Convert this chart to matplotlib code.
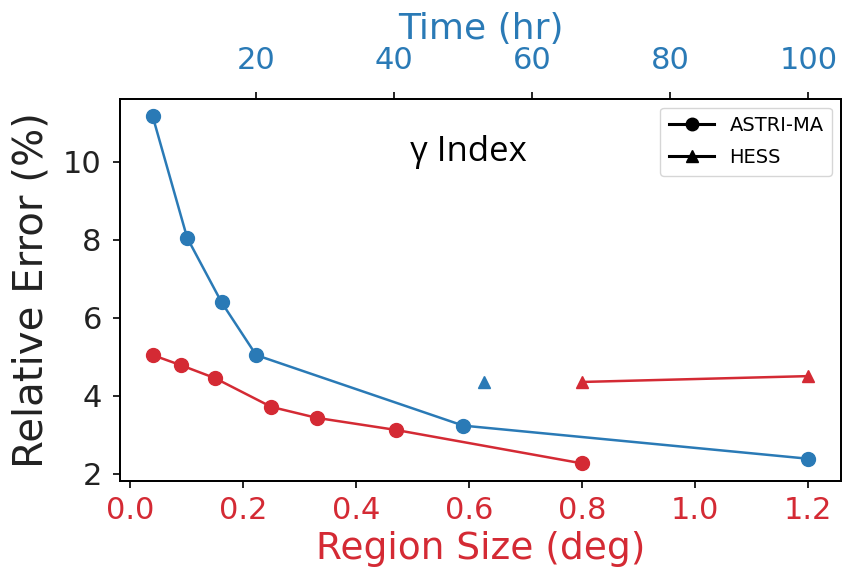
import matplotlib.pyplot as plt
from matplotlib.lines import Line2D

# ASTRI-MA, relative error vs. observation time (top axis)
astri_time = [5, 10, 15, 20, 50, 100]
astri_time_err = [11.17, 8.05, 6.39, 5.04, 3.23, 2.38]

# ASTRI-MA, relative error vs. region size (bottom axis)
astri_size = [0.04, 0.09, 0.15, 0.25, 0.33, 0.47, 0.80]
astri_size_err = [5.04, 4.78, 4.45, 3.71, 3.43, 3.12, 2.26]

# HESS points
hess_time = [53]
hess_time_err = [4.35]
hess_size = [0.80, 1.20]
hess_size_err = [4.35, 4.50]

blue = "#2a7ab6"
red = "#d42a34"

fig = plt.figure(figsize=(8.44, 5.71), dpi=100)
ax = fig.add_axes([0.142, 0.158, 0.8545, 0.669])

ax.plot(astri_size, astri_size_err, color=red, marker="o", markersize=10, linewidth=1.8)
ax.plot(hess_size, hess_size_err, color=red, marker="^", markersize=9, linewidth=1.8)

ax.set_xlabel("Region Size (deg)", color=red, fontsize=27, labelpad=4)
ax.set_ylabel("Relative Error (%)", color="#222222", fontsize=29, labelpad=8)
ax.tick_params(axis="x", colors=red, labelsize=22, length=5, width=1.2, pad=6)
ax.tick_params(axis="x", color="black")
ax.tick_params(axis="y", labelsize=22, length=5, width=1.2, pad=8, labelcolor="#222222")
ax.set_yticks([2, 4, 6, 8, 10])

ax2 = ax.twiny()
ax2.plot(astri_time, astri_time_err, color=blue, marker="o", markersize=10, linewidth=1.8)
ax2.plot(hess_time, hess_time_err, color=blue, marker="^", markersize=9, linestyle="none")
ax2.set_xlim(0.25, 104.75)
ax2.set_xlabel("Time (hr)", color=blue, fontsize=26, labelpad=5)
ax2.tick_params(axis="x", labelcolor=blue, labelsize=22, length=5, width=1.2, pad=12)
ax2.set_xticks([20, 40, 60, 80, 100])

for a in (ax, ax2):
    for s in a.spines.values():
        s.set_linewidth(1.3)

ax2.text(0.484, 0.86, "γ Index", transform=ax2.transAxes, ha="center", va="center",
         fontsize=25, family=["Open Sans", "DejaVu Sans"], color="black")

handles = [
    Line2D([], [], color="black", marker="o", markersize=9, linewidth=2.2, label="ASTRI-MA"),
    Line2D([], [], color="black", marker="^", markersize=9, linewidth=2.2, label="HESS"),
]
ax2.legend(handles=handles, loc="upper right", fontsize=14, handlelength=2.3,
           handletextpad=0.8, labelspacing=0.65, borderpad=0.45, borderaxespad=0.45)

fig.savefig("out.png", dpi=100)
